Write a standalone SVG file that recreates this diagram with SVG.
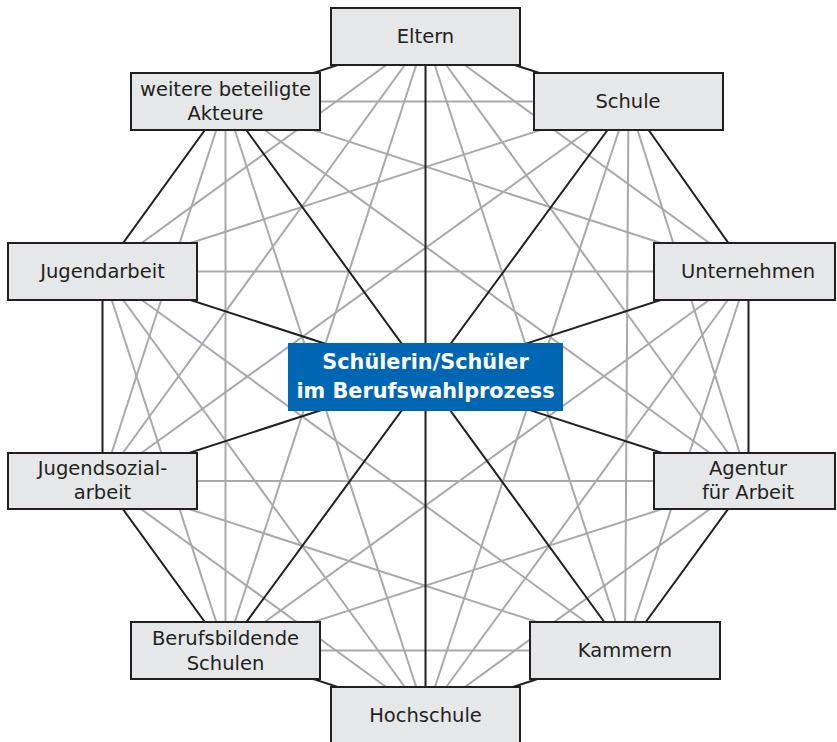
<svg xmlns="http://www.w3.org/2000/svg" width="837" height="742" viewBox="0 0 837 742">
<style>
.g{stroke:#a7a9ac;stroke-width:2;fill:none}
.k{stroke:#231f20;stroke-width:2;fill:none}
.box{fill:#e6e7e8;stroke:#231f20;stroke-width:2}
.t{font-family:"DejaVu Sans",Verdana,sans-serif;font-size:19.5px;fill:#231f20;text-anchor:middle}
.c{font-family:"DejaVu Sans",Verdana,sans-serif;font-size:20.8px;font-weight:bold;fill:#ffffff;text-anchor:middle}
</style>
<rect width="837" height="742" fill="#ffffff"/>
<g id="connectors">
<g id="gray">
<path class="g" d="M425.5,36.5L748.5,271.5M425.5,36.5L748.5,481M425.5,36.5L625,650.5M425.5,36.5L225.5,650.5M425.5,36.5L102.5,481M425.5,36.5L102.5,271.5"/>
<path class="g" d="M628.5,101.5L748.5,481M628.5,101.5L625,650.5M628.5,101.5L425.5,715.5M628.5,101.5L102.5,481M628.5,101.5L102.5,271.5M628.5,101.5L225.5,101.5"/>
<path class="g" d="M748.5,271.5L625,650.5M748.5,271.5L425.5,715.5M748.5,271.5L225.5,650.5M748.5,271.5L102.5,271.5M748.5,271.5L225.5,101.5"/>
<path class="g" d="M748.5,481L425.5,715.5M748.5,481L225.5,650.5M748.5,481L102.5,481M748.5,481L225.5,101.5"/>
<path class="g" d="M625,650.5L225.5,650.5M625,650.5L102.5,481M625,650.5L102.5,271.5"/>
<path class="g" d="M425.5,715.5L102.5,481M425.5,715.5L102.5,271.5M425.5,715.5L225.5,101.5"/>
<path class="g" d="M225.5,650.5L102.5,271.5M225.5,650.5L225.5,101.5"/>
<path class="g" d="M102.5,481L225.5,101.5"/>
</g>
<g id="black">
<path class="k" d="M425.5,36.5L628.5,101.5L748.5,271.5L748.5,481L625,650.5L425.5,715.5L225.5,650.5L102.5,481L102.5,271.5L225.5,101.5Z"/>
<path class="k" d="M425.5,36.5L425.5,715.5M628.5,101.5L225.5,650.5M748.5,271.5L102.5,481M748.5,481L102.5,271.5M625,650.5L225.5,101.5"/>
</g>
</g>
<g id="eltern"><rect class="box" x="331" y="8" width="189" height="57"/><text class="t" x="425.5" y="43">Eltern</text></g>
<g id="schule"><rect class="box" x="534" y="73" width="189" height="57"/><text class="t" x="628" y="108">Schule</text></g>
<g id="unternehmen"><rect class="box" x="654" y="243" width="181" height="57"/><text class="t" x="748" y="278">Unternehmen</text></g>
<g id="agentur"><rect class="box" x="654" y="453" width="181" height="56"/><text class="t" x="748" y="475">Agentur</text><text class="t" x="748" y="499">für Arbeit</text></g>
<g id="kammern"><rect class="box" x="530" y="622" width="190" height="57"/><text class="t" x="625" y="657">Kammern</text></g>
<g id="hochschule"><rect class="box" x="331" y="687" width="189" height="60"/><text class="t" x="425.5" y="722">Hochschule</text></g>
<g id="berufsbildende"><rect class="box" x="131" y="622" width="189" height="57"/><text class="t" x="225.5" y="645">Berufsbildende</text><text class="t" x="225.5" y="670">Schulen</text></g>
<g id="jugendsozialarbeit"><rect class="box" x="8" y="453" width="189" height="56"/><text class="t" x="102.5" y="475">Jugendsozial-</text><text class="t" x="102.5" y="499">arbeit</text></g>
<g id="jugendarbeit"><rect class="box" x="8" y="243" width="189" height="57"/><text class="t" x="102.5" y="278">Jugendarbeit</text></g>
<g id="weitere"><rect class="box" x="131" y="73" width="189" height="57"/><text class="t" x="225.5" y="96">weitere beteiligte</text><text class="t" x="225.5" y="120">Akteure</text></g>
<g id="center"><rect x="288" y="343" width="275" height="68" fill="#0066b3"/><text class="c" x="425.5" y="369">Schülerin/Schüler</text><text class="c" x="425.5" y="398">im Berufswahlprozess</text></g>
</svg>
